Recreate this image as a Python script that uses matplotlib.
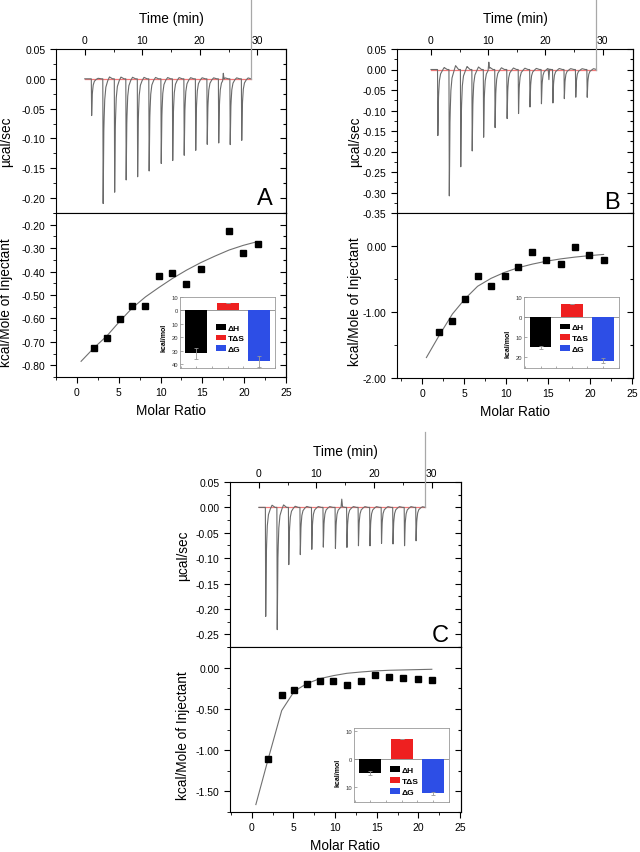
import numpy as np
import matplotlib
matplotlib.use("Agg")
import matplotlib.pyplot as plt
from matplotlib.ticker import MultipleLocator, FixedLocator, FuncFormatter
from matplotlib.patches import Patch

plt.rcParams['font.family'] = ['Liberation Sans', 'DejaVu Sans']
plt.rcParams['axes.unicode_minus'] = False

W, H = 640, 853

# --- raw ITC traces: injection times (min) and peak depths (ucal/sec)
inj_time = [1.2, 3.2, 5.2, 7.2, 9.2, 11.2, 13.3, 15.3, 17.3, 19.3, 21.3, 23.3, 25.3, 27.3]
depth_a = [-0.062, -0.211, -0.194, -0.175, -0.165, -0.156, -0.146, -0.139, -0.129, -0.122, -0.113, -0.109, -0.111, -0.105]
depth_b = [-0.162, -0.311, -0.242, -0.205, -0.166, -0.143, -0.123, -0.109, -0.092, -0.085, -0.084, -0.072, -0.068, -0.069]
depth_c = [-0.216, -0.243, -0.115, -0.096, -0.083, -0.079, -0.083, -0.080, -0.076, -0.077, -0.073, -0.073, -0.076, -0.067]
bump_time_a, bump_val_a = [24.1], [0.011]
bump_time_b, bump_val_b = [10.1, 20.6], [0.018, -0.027]
bump_time_c, bump_val_c = [14.4], [0.015]
end_time = 28.9
end_top = [0.14, 0.18, 0.149]
overshoot = [-0.015, -0.03, -0.02]

# peak shape (offset from injection, fraction of depth)
prof_dt = [-0.06, 0.0, 0.05, 0.12, 0.25, 0.45, 0.75, 1.1, 1.6]
prof_frac = [0, 1, 0.7, 0.4, 0.18, 0.07, 0.02, 1.0, 0]

# --- integrated heats
ratio = [2.0, 3.6, 5.1, 6.6, 8.2, 9.8, 11.4, 13.1, 14.8, 16.5, 18.2, 19.9, 21.6]
heat_a = [-0.725, -0.682, -0.604, -0.546, -0.549, -0.417, -0.404, -0.455, -0.389, np.nan, -0.227, -0.319, -0.281]
heat_b = [-1.298, -1.136, -0.798, -0.449, -0.611, -0.449, -0.323, -0.086, -0.212, -0.273, -0.010, -0.141, -0.207]
heat_c = [-1.108, -0.328, -0.275, -0.202, -0.166, -0.162, -0.214, -0.166, -0.085, -0.117, -0.125, -0.142, -0.146]

fit_ratio = [0.5] + ratio
fit_a = [-0.783, -0.727, -0.674, -0.613, -0.556, -0.508, -0.468, -0.430, -0.394, -0.362, -0.334, -0.308, -0.288, -0.272]
fit_b = [-1.69, -1.36, -1.03, -0.80, -0.61, -0.49, -0.40, -0.33, -0.275, -0.23, -0.195, -0.168, -0.146, -0.128]
fit_c = [-1.66, -1.10, -0.52, -0.287, -0.194, -0.133, -0.097, -0.069, -0.053, -0.040, -0.032, -0.028, -0.024, -0.020]

# --- thermodynamic insets (kcal/mol)
terms = ['ΔH', 'TΔS', 'ΔG']
term_colors = ['#000000', '#ee2020', '#2d4ee6']
thermo_a, err_a = [-32, 5.5, -38], [4, 0, 4]
thermo_b, err_b = [-15.0, 6.7, -21.7], [0.7, 0, 1.3]
thermo_c, err_c = [-5.1, 7.2, -12.4], [0.7, 0, 0.6]

fig = plt.figure(figsize=(W / 100, H / 100), dpi=100)


def rect(l, t, r, b):
    return [l / W, 1 - b / H, (r - l) / W, (b - t) / H]


def right_ticks(ax):
    sec = ax.secondary_yaxis('right')
    sec.yaxis.set_major_locator(ax.yaxis.get_major_locator())
    sec.yaxis.set_minor_locator(ax.yaxis.get_minor_locator())
    sec.tick_params(which='both', direction='in', labelright=False, width=0.8)
    sec.tick_params(which='major', length=4)
    sec.tick_params(which='minor', length=2)
    sec.spines['right'].set_linewidth(0.8)


def style(ax):
    for s in ax.spines.values():
        s.set_linewidth(0.8)
    ax.tick_params(labelsize=7.5, width=0.8)
    ax.tick_params(which='major', length=4)
    ax.tick_params(which='minor', length=2)


def top_panel(box, xlim, ylim, depth, bt, bv, top, over, letter, lab_x, lab_y, yminor):
    ax = fig.add_axes(rect(*box))
    t = np.linspace(0, end_time, 4000)
    y = np.zeros_like(t)
    frac = [over if i == 7 else f for i, f in enumerate(prof_frac)]
    for ti, d in zip(inj_time, depth):
        y += d * np.interp(t - ti, prof_dt, frac, left=0, right=0)
    for ti, v in zip(bt, bv):
        y += v * np.interp(t - ti, [-0.12, 0, 0.12], [0, 1, 0], left=0, right=0)
    ax.plot([0, end_time], [0, 0], color='#f27878', lw=0.9, zorder=2)
    ax.plot(t, y, color='#6a6a6a', lw=0.8, zorder=3)
    ax.plot([end_time, end_time], [0, top], color='#a8a8a8', lw=0.9, clip_on=False, zorder=3)
    ax.set_xlim(*xlim)
    ax.set_ylim(*ylim)
    style(ax)
    ax.xaxis.set_ticks_position('top')
    ax.xaxis.set_label_position('top')
    ax.set_xticks([0, 10, 20, 30])
    ax.xaxis.set_minor_locator(FixedLocator([5, 15, 25]))
    ax.tick_params(axis='x', which='both', direction='in', pad=3)
    ax.yaxis.set_major_locator(MultipleLocator(0.05))
    ax.yaxis.set_minor_locator(MultipleLocator(yminor))
    ax.yaxis.set_major_formatter(FuncFormatter(lambda v, p: '%.2f' % v))
    ax.tick_params(axis='y', which='both', direction='out')
    ax.set_xlabel('Time (min)', fontsize=9.8, labelpad=9)
    ax.set_ylabel('µcal/sec', fontsize=9.8)
    ax.yaxis.set_label_coords(lab_x, lab_y)
    right_ticks(ax)
    ax.text(letter[0], letter[1], letter[2], transform=ax.transAxes, fontsize=17,
            ha='center', va='center')
    return ax


def bottom_panel(box, xlim, ylim, heat, fit, ymajor, yminor, lab_x, lab_y):
    ax = fig.add_axes(rect(*box))
    ax.plot(fit_ratio, fit, color='#707070', lw=0.8, zorder=2)
    ax.plot(ratio, heat, 's', color='black', ms=4.3, zorder=3)
    ax.set_xlim(*xlim)
    ax.set_ylim(*ylim)
    style(ax)
    ax.xaxis.set_major_locator(MultipleLocator(5))
    ax.xaxis.set_minor_locator(MultipleLocator(2.5))
    ax.yaxis.set_major_locator(MultipleLocator(ymajor))
    ax.yaxis.set_minor_locator(MultipleLocator(yminor))
    ax.yaxis.set_major_formatter(FuncFormatter(lambda v, p: '%.2f' % v))
    ax.tick_params(which='both', direction='out')
    ax.set_xlabel('Molar Ratio', fontsize=9.8, labelpad=4)
    ax.set_ylabel('kcal/Mole of Injectant', fontsize=9.8)
    ax.yaxis.set_label_coords(lab_x, lab_y)
    right_ticks(ax)
    return ax


def inset(box, vals, errs, ylim, yticks, leg_pos, lab_x, lab_y):
    ax = fig.add_axes(rect(*box))
    ax.set_facecolor('white')
    x = np.arange(1, 4)
    ax.bar(x, vals, width=0.7, color=term_colors, zorder=2)
    ax.errorbar(x, vals, yerr=errs, fmt='none', ecolor='#999999', elinewidth=0.6,
                capsize=1.5, capthick=0.6, zorder=3)
    ax.axhline(0, color='#888888', lw=0.6, zorder=1)
    ax.set_xlim(0.48, 3.52)
    ax.set_ylim(*ylim)
    ax.set_yticks(yticks)
    ax.yaxis.set_major_formatter(FuncFormatter(lambda v, p: '%d' % abs(v)))
    ax.set_xticks([])
    ax.xaxis.set_minor_locator(MultipleLocator(0.5))
    for s in ax.spines.values():
        s.set_color('#999999')
        s.set_linewidth(0.6)
    ax.tick_params(axis='y', labelsize=4.2, length=2, width=0.5, color='#888888',
                   labelcolor='#333333', pad=1.5, direction='in')
    ax.tick_params(axis='x', which='minor', length=1.5, width=0.5, color='#888888', direction='in')
    ax.set_ylabel('kcal/mol', fontsize=5, fontweight='bold')
    ax.yaxis.set_label_coords(lab_x, lab_y)
    handles = [Patch(facecolor=c, edgecolor='none') for c in term_colors]
    leg = ax.legend(handles, terms, loc='upper left', bbox_to_anchor=leg_pos, frameon=False,
                    prop={'size': 6, 'weight': 'bold'}, handlelength=1.2, handleheight=0.7,
                    handletextpad=0.2, labelspacing=0.35, borderpad=0, borderaxespad=0)
    leg.set_zorder(5)
    return ax


# panel A
top_panel((56, 50, 286, 214), (-5, 35), (-0.225, 0.05), depth_a, bump_time_a, bump_val_a,
          end_top[0], overshoot[0], (0.91, 0.09, 'A'), -0.187, 0.44, 0.025)
bottom_panel((56, 214, 286, 378), (-2.5, 25), (-0.85, -0.15), heat_a, fit_a, 0.1, 0.05, -0.187, 0.46)
inset((180, 297.7, 275.3, 369), thermo_a, err_a, (-43, 10), [10, 0, -10, -20, -30, -40],
      (0.38, 0.62), -0.126, 0.43)

# panel B
top_panel((397, 50, 633, 214), (-5.94, 35.3), (-0.35, 0.05), depth_b, bump_time_b, bump_val_b,
          end_top[1], overshoot[1], (0.91, 0.07, 'B'), -0.148, 0.44, 0.025)
bottom_panel((397, 214, 633, 379), (-3.0, 25.1), (-2.0, 0.5), heat_b, fit_b, 1.0, 0.5, -0.148, 0.47)
inset((524.3, 298.3, 619.3, 369.3), thermo_b, err_b, (-25.5, 10), [10, 0, -10, -20],
      (0.38, 0.63), -0.13, 0.36)

# panel C
top_panel((230, 483, 461, 648), (-5, 35.1), (-0.275, 0.05), depth_c, bump_time_c, bump_val_c,
          end_top[2], overshoot[2], (0.91, 0.07, 'C'), -0.173, 0.56, 0.025)
bottom_panel((230, 648, 461, 813), (-2.6, 25.1), (-1.75, 0.25), heat_c, fit_c, 0.5, 0.25, -0.173, 0.47)
inset((354, 729.3, 449.3, 802.7), thermo_c, err_c, (-15.4, 11.1), [10, 0, -10],
      (0.38, 0.48), -0.136, 0.40)

fig.savefig('out.png', dpi=100)
